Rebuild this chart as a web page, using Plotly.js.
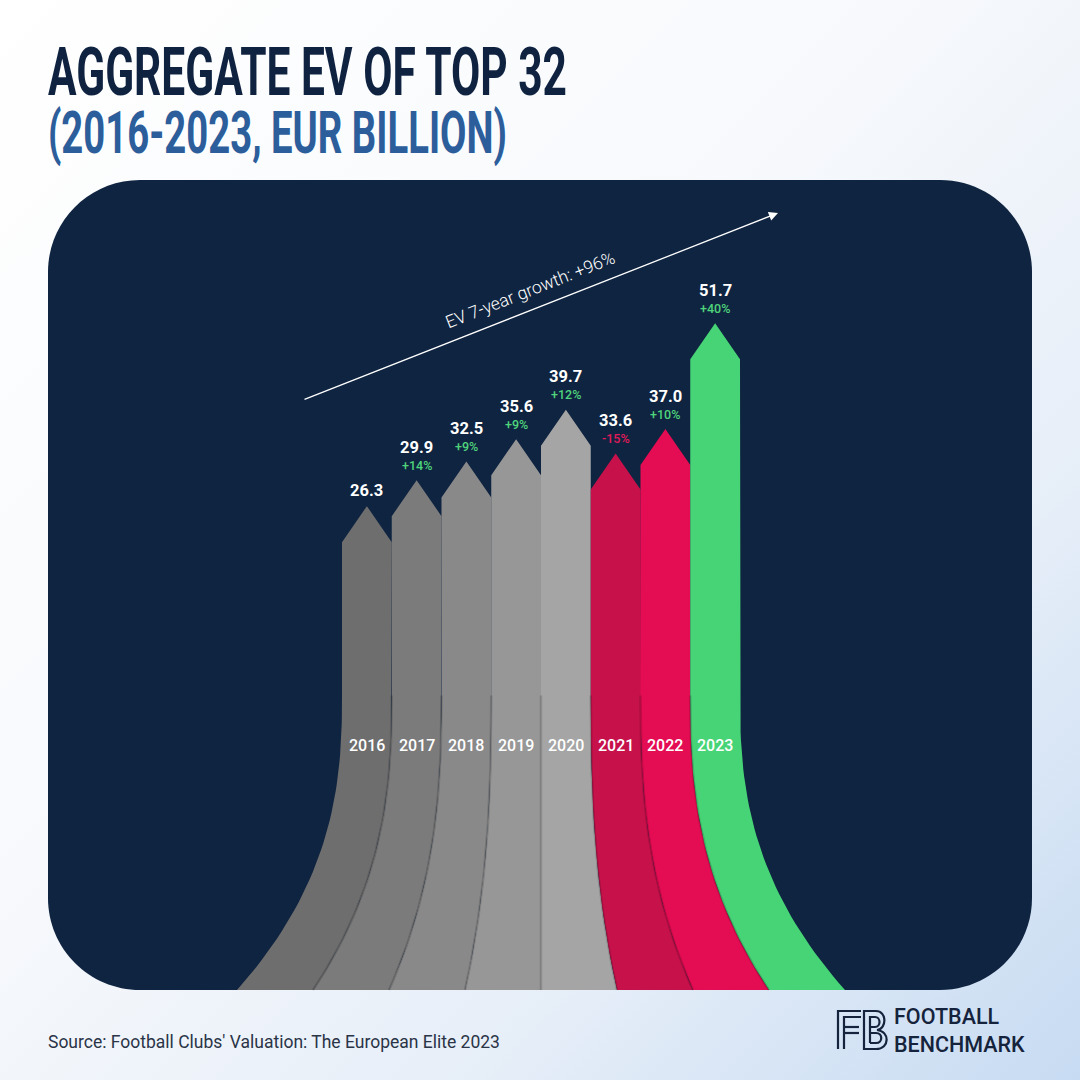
<!DOCTYPE html>
<html>
<head>
<meta charset="utf-8">
<script src="https://cdn.plot.ly/plotly-3.0.1.min.js"></script>
<style>
  html, body { margin: 0; padding: 0; }
  body {
    width: 1080px; height: 1080px; overflow: hidden;
    background: linear-gradient(135deg, #ffffff 0%, #f7f9fc 42%, #e6eef8 72%, #c7dbf2 100%);
  }
  #chart { width: 1080px; height: 1080px; }
</style>
</head>
<body>
<div id="chart"></div>
<script>
// ---- data -------------------------------------------------------------
const years = ['2016', '2017', '2018', '2019', '2020', '2021', '2022', '2023'];
const evValues = [26.3, 29.9, 32.5, 35.6, 39.7, 33.6, 37.0, 51.7];   // EUR billion
const yoyChange = [null, 14, 9, 9, 12, -15, 10, 40];                  // % vs previous year
const columnColors = ['#6e6e6e', '#7b7b7b', '#898989', '#979797', '#a5a5a5', '#c6114b', '#e40c53', '#47d476'];
const titleText = 'AGGREGATE EV OF TOP 32';
const subtitleText = '(2016-2023, EUR BILLION)';
const growthText = 'EV 7-year growth: +96%';
const sourceText = "Source: Football Clubs' Valuation: The European Elite 2023";
const brandLines = ['FOOTBALL', 'BENCHMARK'];

// ---- canvas / scale setup ---------------------------------------------
const W = 1080, H = 1080;
const PX_PER_X = 49.75;          // one column width in pixels
const FIRST_COL_LEFT = 342;      // pixel left edge of the first column
const PX_PER_Y = 7.2;            // pixels per EUR billion
const ZERO_PY = 695.5;           // pixel row of value 0
const xRange = [-0.5 - FIRST_COL_LEFT / PX_PER_X, -0.5 + (W - FIRST_COL_LEFT) / PX_PER_X];
const yRange = [(ZERO_PY - H) / PX_PER_Y, ZERO_PY / PX_PER_Y];

const HEAD = 5;                  // arrow head length (value units)
const BASE = -(990 - ZERO_PY) / PX_PER_Y;   // bottom of the fanned stems
const SPREAD = 76 / PX_PER_X;    // column width at the base relative to the top
const CENTER = (years.length - 1) / 2;
const YEAR_LABEL_Y = -7;

// boundary k (0..n) at value v (<= 0): columns fan out towards the base
function boundaryX(k, v) {
  const t = Math.min(1, Math.max(0, v / BASE));
  const f = Math.pow(t, 2.5);
  return CENTER + (k - years.length / 2) * (1 + (SPREAD - 1) * f);
}
const STEPS = 40;
function boundaryPath(k, downward) {
  const xs = [], ys = [];
  for (let s = 0; s <= STEPS; s++) {
    const v = downward ? BASE * s / STEPS : BASE * (STEPS - s) / STEPS;
    xs.push(boundaryX(k, v)); ys.push(v);
  }
  return { xs, ys };
}

const traces = [];
years.forEach((yr, i) => {
  const left = boundaryPath(i, false);
  const right = boundaryPath(i + 1, true);
  const v = evValues[i];
  const xs = [...left.xs, i - 0.5, i, i + 0.5, ...right.xs];
  const ys = [...left.ys, v - HEAD, v, v - HEAD, ...right.ys];
  traces.push({
    type: 'scatter', mode: 'lines', x: xs, y: ys,
    fill: 'toself', fillcolor: columnColors[i],
    line: { width: 0, color: columnColors[i] },
    hoverinfo: 'skip', showlegend: false
  });
});
// soft seams between neighbouring stems
for (let k = 1; k < years.length; k++) {
  const b = boundaryPath(k, true);
  traces.push({
    type: 'scatter', mode: 'lines', x: b.xs, y: b.ys,
    line: { width: 2.5, color: 'rgba(0,0,0,0.15)' },
    hoverinfo: 'skip', showlegend: false
  });
}

// ---- helpers for pixel-placed decoration ------------------------------
const px = (x) => x / W;
const py = (y) => 1 - y / H;
const toPaper = (d) => d.replace(/(-?[\d.]+),(-?[\d.]+)/g, (m, a, b) => `${px(+a)},${py(+b)}`);

function roundedRect(x0, y0, x1, y1, r) {
  const k = 0.5523 * r;
  return toPaper(
    `M${x0 + r},${y0} L${x1 - r},${y0} C${x1 - r + k},${y0} ${x1},${y0 + r - k} ${x1},${y0 + r} ` +
    `L${x1},${y1 - r} C${x1},${y1 - r + k} ${x1 - r + k},${y1} ${x1 - r},${y1} ` +
    `L${x0 + r},${y1} C${x0 + r - k},${y1} ${x0},${y1 - r + k} ${x0},${y1 - r} ` +
    `L${x0},${y0 + r} C${x0},${y0 + r - k} ${x0 + r - k},${y0} ${x0 + r},${y0} Z`);
}

const NAVY = '#0f2440';
const BRAND = '#15233c';
const logoStroke = { color: BRAND, width: 2.2 };
const logoPaths = [
  'M838,1049 L838,1011 L861,1011',
  'M844,1049 L844,1017 L861,1017',
  'M844,1027 L859,1027',
  'M844,1033 L859,1033',
  'M864,1049 L864,1011 L876,1011 C887,1011 887,1029 877,1030 C890,1031 890,1049 876,1049 Z',
  'M870,1043 L870,1017 L875,1017 C881,1017 881,1027 875,1027 L870,1027',
  'M870,1033 L876,1033 C883,1033 883,1043 876,1043 L870,1043'
];

const shapes = [
  { type: 'path', xref: 'paper', yref: 'paper', layer: 'below',
    path: roundedRect(48, 180, 1032, 990, 92), fillcolor: NAVY, line: { width: 0 } },
  ...logoPaths.map(p => ({ type: 'path', xref: 'paper', yref: 'paper', path: toPaper(p), line: logoStroke }))
];

// ---- annotations -------------------------------------------------------
const FONT = 'Roboto, "Noto Sans", sans-serif';
const TITLE_FONT = '"Liberation Sans Narrow", Roboto, sans-serif';
const annotations = [
  // two-line headline, condensed after drawing
  { xref: 'paper', yref: 'paper', x: px(46), y: py(32), xanchor: 'left', yanchor: 'top', align: 'left',
    text: `${titleText}<br><span style="color:#2d5e9c;font-size:57px">${subtitleText}</span>`,
    showarrow: false,
    font: { family: TITLE_FONT, size: 66, color: '#0f2341', weight: 700 } },
  // growth trend arrow
  { xref: 'paper', yref: 'paper', x: px(778), y: py(213), ax: -475, ay: 187,
    text: '', showarrow: true, arrowhead: 2, arrowsize: 1.4, arrowwidth: 1.3, arrowcolor: '#ffffff' },
  { xref: 'paper', yref: 'paper', x: px(530), y: py(290), xanchor: 'center', yanchor: 'middle',
    textangle: -21.5, text: growthText, showarrow: false,
    font: { family: FONT, size: 17.5, color: '#ffffff', weight: 300 } },
  { xref: 'paper', yref: 'paper', x: px(46), y: py(1042), xanchor: 'left', yanchor: 'middle',
    text: sourceText, showarrow: false,
    font: { family: FONT, size: 17.5, color: '#2a3447' } },
  { xref: 'paper', yref: 'paper', x: px(892), y: py(1030), xanchor: 'left', yanchor: 'middle',
    align: 'left', text: brandLines.join('<br>'), showarrow: false,
    font: { family: FONT, size: 21.5, color: BRAND, weight: 500 } }
];

years.forEach((yr, i) => {
  const v = evValues[i];
  const c = yoyChange[i];
  annotations.push({
    x: i, y: v, xref: 'x', yref: 'y', yanchor: 'middle', yshift: c === null ? 16 : 33,
    text: v.toFixed(1), showarrow: false,
    font: { family: FONT, size: 16.5, color: '#ffffff', weight: 700 }
  });
  if (c !== null) {
    annotations.push({
      x: i, y: v, xref: 'x', yref: 'y', yanchor: 'middle', yshift: 15,
      text: (c > 0 ? '+' : '') + c + '%', showarrow: false,
      font: { family: FONT, size: 12.5, color: c >= 0 ? '#4fd47c' : '#e21a5a', weight: 500 }
    });
  }
  annotations.push({
    x: i, y: YEAR_LABEL_Y, xref: 'x', yref: 'y', yanchor: 'middle',
    text: yr, showarrow: false,
    font: { family: FONT, size: 16, color: '#ffffff', weight: 500 }
  });
});

const layout = {
  width: W, height: H,
  margin: { l: 0, r: 0, t: 0, b: 0, pad: 0 },
  paper_bgcolor: 'rgba(0,0,0,0)', plot_bgcolor: 'rgba(0,0,0,0)',
  xaxis: { range: xRange, visible: false, fixedrange: true },
  yaxis: { range: yRange, visible: false, fixedrange: true },
  showlegend: false,
  shapes, annotations
};

const gd = document.getElementById('chart');
const TITLE_WIDTH = 519;      // condensed headline width (px)
const SUBTITLE_WIDTH = 459;   // condensed second line width (px)
const LINE_GAP = 58;          // baseline-to-baseline distance of the headline (px)

Plotly.newPlot(gd, traces, layout, { displayModeBar: false, staticPlot: true }).then(() => {
  const t = gd.querySelector('.annotation[data-index="0"] .annotation-text');
  if (!t) return;
  const lines = t.querySelectorAll('tspan.line');
  const first = lines.length ? lines[0] : t;
  const w1 = first.getComputedTextLength();
  if (!w1) return;
  const s = TITLE_WIDTH / w1;
  if (lines.length > 1) {
    const second = lines[1];
    const inner = second.querySelectorAll('tspan');
    const targets = inner.length ? Array.from(inner) : [second];
    const w2 = second.getComputedTextLength();
    const cur = parseFloat(getComputedStyle(targets[0]).fontSize);
    const size = cur * (SUBTITLE_WIDTH / s) / w2;
    targets.forEach(n => { n.style.fontSize = size + 'px'; });
    second.setAttribute('dy', String(LINE_GAP));
  }
  const bb = t.getBBox();
  t.setAttribute('transform', `translate(${bb.x * (1 - s)},0) scale(${s},1)`);
});
</script>
</body>
</html>
